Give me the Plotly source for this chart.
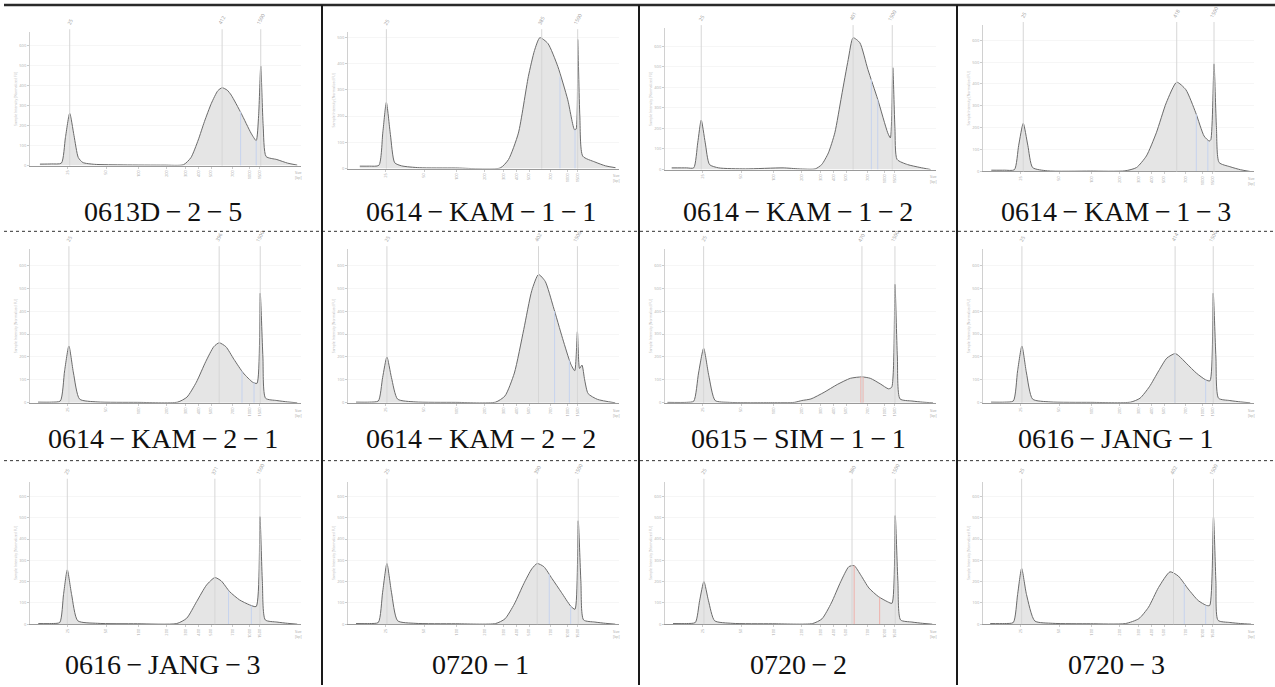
import plotly.graph_objects as go

W, H = 1275, 687
TS = "\u2009"
SAMPLES = ["0613D−2−5", "0614−KAM−1−1", "0614−KAM−1−2", "0614−KAM−1−3",
           "0614−KAM−2−1", "0614−KAM−2−2", "0615−SIM−1−1", "0616−JANG−1",
           "0616−JANG−3", "0720−1", "0720−2", "0720−3"]

# migration position (0-100 across the size axis) and intensity of each trace
X1 = [3.7, 8, 11.7, 13.2, 14.8, 16.4, 18.0, 19.7, 24, 35, 50, 57.2, 60, 62.7, 65, 67.6, 70, 71.6, 73.5, 75, 78.7, 82.4, 84.3, 85.2, 86.0, 86.9, 88.0, 92, 96, 99.6]
Y1 = [7, 8, 12, 140, 262, 150, 40, 15, 6, 3, 2, 4, 40, 128, 220, 312, 375, 390, 378, 353, 262, 162, 125, 250, 498, 200, 45, 30, 12, 2]
X2 = [4.4, 8, 11.5, 13.0, 14.3, 15.8, 17.4, 20, 26.6, 40, 56.7, 59.8, 63.5, 67.2, 69.5, 71.5, 74.5, 78.2, 81.9, 84.4, 85.0, 85.6, 86.4, 87.5, 92, 96, 99.7]
Y2 = [9, 9, 12, 140, 252, 130, 22, 10, 3, 2, 2, 34, 135, 350, 450, 499, 477, 389, 262, 148, 150, 492, 200, 47, 25, 10, 3]
X3 = [2.5, 8, 10.7, 12.2, 13.5, 15.0, 16.6, 20, 30, 44, 50, 56, 58.4, 60.9, 63.3, 65.8, 68.3, 70.1, 72.6, 75.6, 79.3, 83.0, 84.0, 84.9, 85.7, 86.5, 90.4, 95, 99]
Y3 = [8, 8, 8, 130, 241, 130, 24, 8, 3, 8, 3, 3, 24, 81, 179, 358, 537, 642, 618, 488, 341, 179, 154, 496, 200, 49, 24, 10, 0]
X4 = [3.1, 8, 11.7, 13.3, 15.0, 16.7, 18.5, 24, 40, 52.9, 57.2, 60.9, 64.6, 68.3, 72.2, 75.6, 79.3, 82.4, 84.3, 84.9, 86.1, 87.0, 88.0, 92, 96, 99.6]
Y4 = [6, 6, 8, 120, 220, 120, 18, 3, 2, 3, 18, 71, 177, 314, 408, 374, 268, 162, 139, 145, 492, 200, 41, 22, 8, 0]
X5 = [3, 8, 11.3, 12.9, 14.5, 16.2, 18.5, 25, 40, 55, 58.5, 62, 65.5, 68.5, 70.5, 73, 76, 79.5, 83, 84.6, 85.8, 86.8, 87.8, 92, 96, 99.6]
Y5 = [3, 3, 8, 140, 248, 130, 16, 4, 2, 3, 25, 90, 180, 245, 262, 245, 190, 130, 90, 85, 478, 200, 20, 10, 4, 0]
X6 = [3, 8, 11.3, 12.9, 14.5, 16.2, 18.5, 25, 40, 55, 58.5, 62, 65.5, 68.5, 71, 73.5, 76.5, 80, 83, 84.5, 85.5, 86.3, 87.2, 88.2, 89.5, 93, 99.6]
Y6 = [3, 3, 8, 110, 200, 110, 16, 4, 2, 3, 30, 130, 320, 490, 560, 530, 420, 280, 170, 140, 310, 150, 165, 100, 40, 15, 0]
X7 = [0.9, 8, 10.7, 12.5, 14.4, 16.3, 18.7, 24, 40, 48.2, 51, 54.4, 59.3, 64.2, 69.1, 73.4, 76.5, 80.2, 83.3, 84.5, 85.7, 86.6, 87.6, 92, 96, 99.9]
Y7 = [2, 2, 7, 130, 238, 120, 10, 2, 1, 2, 10, 17, 46, 80, 107, 113, 107, 83, 61, 68, 517, 200, 17, 8, 3, 0]
X8 = [3, 8, 11.3, 12.9, 14.5, 16.2, 18.5, 25, 40, 55, 58.5, 62, 65.5, 68.5, 71.6, 73, 76, 79.5, 83, 84.6, 85.8, 86.8, 87.8, 92, 96, 99.6]
Y8 = [3, 3, 8, 140, 248, 130, 16, 4, 2, 3, 20, 70, 140, 195, 215, 205, 170, 130, 100, 96, 478, 200, 20, 10, 4, 0]
X9 = [3.1, 8, 11.1, 12.5, 13.9, 15.5, 17.8, 25.2, 40, 54.7, 58.4, 62.1, 65.8, 68.9, 71.3, 74.4, 78.1, 81.8, 84.3, 85.7, 86.6, 87.7, 92, 96, 99.6]
Y9 = [3, 3, 8, 140, 255, 140, 16, 4, 2, 3, 28, 106, 184, 219, 203, 153, 114, 91, 83, 505, 200, 20, 10, 4, 0]
X10 = [3, 8, 11.3, 12.9, 14.5, 16.2, 18.5, 25, 40, 55, 58.5, 62, 65.5, 68.5, 70.5, 73, 76, 79.5, 83, 84.6, 85.8, 86.8, 87.8, 92, 96, 99.6]
Y10 = [3, 3, 8, 150, 285, 150, 16, 4, 2, 3, 25, 95, 190, 260, 285, 270, 215, 150, 85, 70, 486, 200, 20, 10, 4, 0]
X11 = [3, 8, 11.3, 12.9, 14.5, 16.2, 18.5, 25, 40, 55, 58.5, 62, 65.5, 68.5, 70.5, 73, 76, 79.5, 83, 84.6, 85.8, 86.8, 87.8, 92, 96, 99.6]
Y11 = [3, 3, 8, 110, 200, 110, 16, 4, 2, 3, 25, 100, 200, 270, 275, 230, 170, 130, 105, 98, 510, 200, 20, 10, 4, 0]
X12 = [2.7, 8, 11.3, 12.9, 14.4, 16.2, 19.3, 26, 40, 53.1, 58.1, 61.7, 65.4, 69.7, 72.8, 76.5, 80.2, 83.3, 84.5, 85.9, 86.8, 87.6, 92, 96, 99.9]
Y12 = [3, 3, 8, 140, 262, 140, 15, 4, 2, 3, 26, 80, 172, 246, 226, 165, 111, 88, 88, 503, 200, 18, 8, 3, 0]

XS = [X1, X2, X3, X4, X5, X6, X7, X8, X9, X10, X11, X12]
YS = [Y1, Y2, Y3, Y4, Y5, Y6, Y7, Y8, Y9, Y10, Y11, Y12]

# peak positions: lower marker, main peak, upper marker
LOWER_X = [14.8, 14.3, 13.5, 15.0, 14.5, 14.5, 14.4, 14.5, 13.9, 14.5, 14.5, 14.4]
MAIN_X = [71.6, 72.2, 70.1, 72.2, 70.5, 71.0, 73.4, 71.6, 68.9, 70.5, 69.7, 71.0]
UPPER_X = [86.0, 85.6, 84.7, 86.1, 85.8, 85.5, 85.7, 85.8, 85.7, 85.8, 85.8, 85.9]
LOWER_LBL = ["25"] * 12
MAIN_LBL = ["412", "385", "401", "418", "396", "402", "470", "414", "371", "390", "380", "402"]
UPPER_LBL = ["1500"] * 12
# smear-region boundary lines: positions and intensity where they meet the trace
REGION_X = [[78.5, 84.3], [79.0, 84.6], [76.9, 79.3], [79.5, 83.8], [79.0, 83.5], [77.0, 82.5],
            [73.0, 73.8], [71.5, 83.0], [74.0, 82.5], [75.0, 83.0], [70.5, 80.0], [75.0, 83.0]]
REGION_Y = [[270, 125], [350, 148], [440, 341], [262, 140], [138, 88], [400, 185],
            [113, 113], [215, 100], [155, 88], [235, 85], [275, 125], [190, 88]]
REGION_COLOR = ["#c6d3ee"] * 6 + ["#eeb0aa"] + ["#c6d3ee"] * 3 + ["#eeb0aa", "#c6d3ee"]

YTOP = [670, 521, 690, 670, 670, 670, 670, 670, 670, 670, 670, 670]

SIZE_POS = [14.0, 28.4, 40.6, 50.9, 57.9, 62.7, 67.5, 75.6, 81.9, 85.6]
SIZE_LBL = ["25", "50", "100", "200", "300", "400", "500", "700", "1000", "1500"]
Y_TICKS = [0, 100, 200, 300, 400, 500, 600]

COL_X0 = [4, 322, 639, 957]
TOPS = [32, 32, 28, 25, 250, 250, 250, 250, 483, 483, 483, 483]
BASES = [166, 169, 170, 172, 404, 404, 404, 404, 626, 626, 626, 626]
LABEL_Y = [212, 440, 666]

fig = go.Figure()
layout = dict(width=W, height=H, margin=dict(l=0, r=0, t=0, b=0),
              paper_bgcolor="white", plot_bgcolor="white", showlegend=False)
shapes, annots = [], []

for i in range(12):
    r, c = divmod(i, 4)
    n = i + 1
    xa = "x" if n == 1 else f"x{n}"
    ya = "y" if n == 1 else f"y{n}"
    x0 = COL_X0[c] + 26
    x1 = COL_X0[c] + 297
    fig.add_trace(go.Scatter(x=XS[i], y=YS[i], mode="lines", xaxis=xa, yaxis=ya,
                             line=dict(color="#6a6a6a", width=1, shape="spline", smoothing=0.6),
                             fill="tozeroy", fillcolor="#e5e5e5", hoverinfo="skip"))
    for rx, ry in zip(REGION_X[i], REGION_Y[i]):
        fig.add_trace(go.Scatter(x=[rx, rx], y=[0, ry], mode="lines", xaxis=xa, yaxis=ya,
                                 line=dict(color=REGION_COLOR[i], width=1), hoverinfo="skip"))
    key = "" if n == 1 else str(n)
    layout["xaxis" + key] = dict(domain=[x0 / W, x1 / W], range=[0, 101], anchor=ya,
                                 showgrid=False, zeroline=False, showline=True, linecolor="#9a9a9a",
                                 linewidth=1, tickvals=SIZE_POS, ticktext=SIZE_LBL, tickangle=-90,
                                 ticks="outside", ticklen=2, tickcolor="#cccccc",
                                 tickfont=dict(size=4, color="#a8a8a8"), fixedrange=True)
    yt = [t for t in Y_TICKS if t <= YTOP[i] - 10]
    layout["yaxis" + key] = dict(domain=[1 - BASES[i] / H, 1 - TOPS[i] / H], range=[0, YTOP[i]],
                                 anchor=xa, showgrid=True, gridcolor="#f6f6f6", zeroline=False,
                                 showline=True, linecolor="#d0d0d0", linewidth=1, tickvals=yt,
                                 ticks="outside", ticklen=2, tickcolor="#cccccc",
                                 tickfont=dict(size=4, color="#b0b0b0"), fixedrange=True,
                                 title=dict(text="Sample Intensity [Normalized FU]",
                                            font=dict(size=3.5, color="#bdbdbd"), standoff=2))
    for px, lbl in zip([LOWER_X[i], MAIN_X[i], UPPER_X[i]], [LOWER_LBL[i], MAIN_LBL[i], UPPER_LBL[i]]):
        shapes.append(dict(type="line", xref=xa, yref=f"{ya} domain", x0=px, x1=px, y0=0, y1=1.02,
                           line=dict(color="#d6d6d6", width=1)))
        annots.append(dict(x=px, y=1.025, xref=xa, yref=f"{ya} domain", text=lbl, showarrow=False,
                           textangle=-62, font=dict(size=5, color="#9a9a9a"),
                           xanchor="center", yanchor="bottom"))
    annots.append(dict(x=100, y=-0.02, xref=xa, yref=f"{ya} domain", text="Size<br>[bp]",
                       showarrow=False, font=dict(size=3.5, color="#a8a8a8"), yanchor="top"))
    label = SAMPLES[i].replace("−", TS + "−" + TS)
    annots.append(dict(x=(COL_X0[c] + (COL_X0[c + 1] if c < 3 else 1275)) / 2 / W,
                       y=1 - LABEL_Y[r] / H, xref="paper", yref="paper", text=label,
                       showarrow=False, xanchor="center", yanchor="middle",
                       font=dict(family="Liberation Serif", size=28, color="#111111")))

# table rules
shapes.append(dict(type="line", xref="paper", yref="paper", x0=4 / W, x1=1, y0=1 - 5 / H, y1=1 - 5 / H,
                   line=dict(color="#2a2a2a", width=2.5)))
for yy in [232, 462]:
    shapes.append(dict(type="line", xref="paper", yref="paper", x0=4 / W, x1=1, y0=1 - yy / H, y1=1 - yy / H,
                       line=dict(color="#333333", width=1, dash="dot")))
for xx in COL_X0[1:]:
    shapes.append(dict(type="line", xref="paper", yref="paper", x0=xx / W, x1=xx / W, y0=0, y1=1 - 5 / H,
                       line=dict(color="#1a1a1a", width=2)))

layout["shapes"] = shapes
layout["annotations"] = annots
fig.update_layout(**layout)
fig.write_html("out.html")
